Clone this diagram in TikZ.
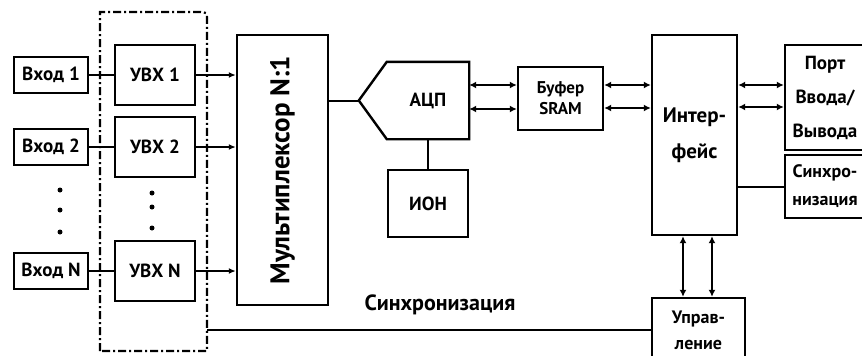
\documentclass[tikz,border=0pt]{standalone}
\usepackage{fontspec}
\setmainfont{PT Sans}
\usetikzlibrary{arrows.meta,positioning}

\tikzset{
  blk/.style={draw,line width=2.4pt,inner sep=0pt,align=center,
    font=\fontsize{19}{24}\selectfont\bfseries},
  link/.style={line width=2pt},
  feed/.style={link,-{Latex[length=7pt,width=6pt]}},
  bus/.style={link,{Latex[length=7pt,width=7pt]}-{Latex[length=7pt,width=7pt]}},
  frm/.style={line width=2.2pt,dash pattern=on 8pt off 3pt on 2pt off 3pt},
  lbl/.style={inner sep=0pt,font=\fontsize{22}{24}\selectfont\bfseries}
}

\begin{document}
\begin{tikzpicture}[x=1pt,y=-1pt,line cap=butt,line join=miter]
\useasboundingbox (0,0) rectangle (862,356);
% inputs
\node[blk,minimum width=74,minimum height=36] (in1) at (51,75) {Вход 1};
\node[blk,minimum width=74,minimum height=36] (in2) at (51,147) {Вход 2};
\node[blk,minimum width=74,minimum height=36] (inN) at (51,271) {Вход N};
\foreach \y in {190,210,232} \fill (60,\y) circle (2.5);
% input amplifiers
\draw[frm] (100,351) -- (100,12) -- (198,12) .. controls (207,12) .. (207,21) -- (207,351) -- cycle;
\node[blk,minimum width=80,minimum height=60] (uvx1) at (155,75) {УВХ 1};
\node[blk,minimum width=80,minimum height=60] (uvx2) at (155,147) {УВХ 2};
\node[blk,minimum width=80,minimum height=60] (uvxN) at (155,271) {УВХ N};
\foreach \y in {193,207,228} \fill (152,\y) circle (2.5);
\draw[link] (in1) -- (uvx1);
\draw[link] (in2) -- (uvx2);
\draw[link] (inN) -- (uvxN);
% multiplexer
\node[blk,minimum width=91,minimum height=270] (mux) at (282.5,170) {};
\node[lbl,rotate=90,font=\fontsize{27}{28}\selectfont\bfseries] (muxText) at (mux.center) {Мультиплексор N:1};
\draw[feed] (uvx1.east) -- (uvx1.east -| mux.west);
\draw[feed] (uvx2.east) -- (uvx2.east -| mux.west);
\draw[feed] (uvxN.east) -- (uvxN.east -| mux.west);
% converter
\node[blk,draw=none,minimum width=80,minimum height=75] (adc) at (428,100.5) {АЦП};
\coordinate (adcTip) at ([xshift=-28pt]adc.west);
\draw[line width=2.4pt] (adc.north west) -- (adc.north east) -- (adc.south east)
  -- (adc.south west) -- (adcTip) -- cycle;
\draw[link] (mux.east |- adcTip) -- (adcTip);
\node[blk,minimum width=80,minimum height=67] (ion) at (428,203.5) {ИОН};
\draw[link] (adc.south) -- (ion.north);
% buffer
\node[blk,minimum width=85,minimum height=63,font=\fontsize{17}{21}\selectfont\bfseries] (buf) at (560.5,98.5) {Буфер\\SRAM};
\draw[bus] ([yshift=15.5pt]adc.east) -- ([yshift=15.5pt]adc.east -| buf.west);
\draw[bus] ([yshift=-8.5pt]adc.east) -- ([yshift=-8.5pt]adc.east -| buf.west);
% interface
\node[blk,minimum width=85,minimum height=200,font=\fontsize{21}{36}\selectfont\bfseries] (intf) at (694.5,135) {Интер-\\фейс};
\draw[bus] ([yshift=13.5pt]buf.east) -- ([yshift=13.5pt]buf.east -| intf.west);
\draw[bus] ([yshift=-9.5pt]buf.east) -- ([yshift=-9.5pt]buf.east -| intf.west);
\node[blk,minimum width=80,minimum height=105,font=\fontsize{19}{34}\selectfont\bfseries] (port) at (825,97.5) {Порт\\Ввода/\\Вывода};
\node[blk,minimum width=80,minimum height=63,font=\fontsize{18}{28}\selectfont\bfseries] (sync) at (825,186.5) {Синхро-\\низация};
\draw[bus] ([yshift=12.5pt]port.west -| intf.east) -- ([yshift=12.5pt]port.west);
\draw[bus] ([yshift=-9.5pt]port.west -| intf.east) -- ([yshift=-9.5pt]port.west);
\draw[link] (sync.west -| intf.east) -- (sync.west);
% control
\node[blk,minimum width=93,minimum height=64,font=\fontsize{18}{26}\selectfont\bfseries] (ctrl) at (698.5,330) {Управ-\\ление};
\draw[bus] ([xshift=-11.5pt]intf.south) -- ([xshift=-11.5pt]intf.south |- ctrl.north);
\draw[bus] ([xshift=17.5pt]intf.south) -- ([xshift=17.5pt]intf.south |- ctrl.north);
\coordinate (syncEnd) at (207,330);
\draw[link] (ctrl.west) -- (syncEnd);
\node[lbl] (syncLbl) at (440,305) {Синхронизация};
\end{tikzpicture}
\end{document}
